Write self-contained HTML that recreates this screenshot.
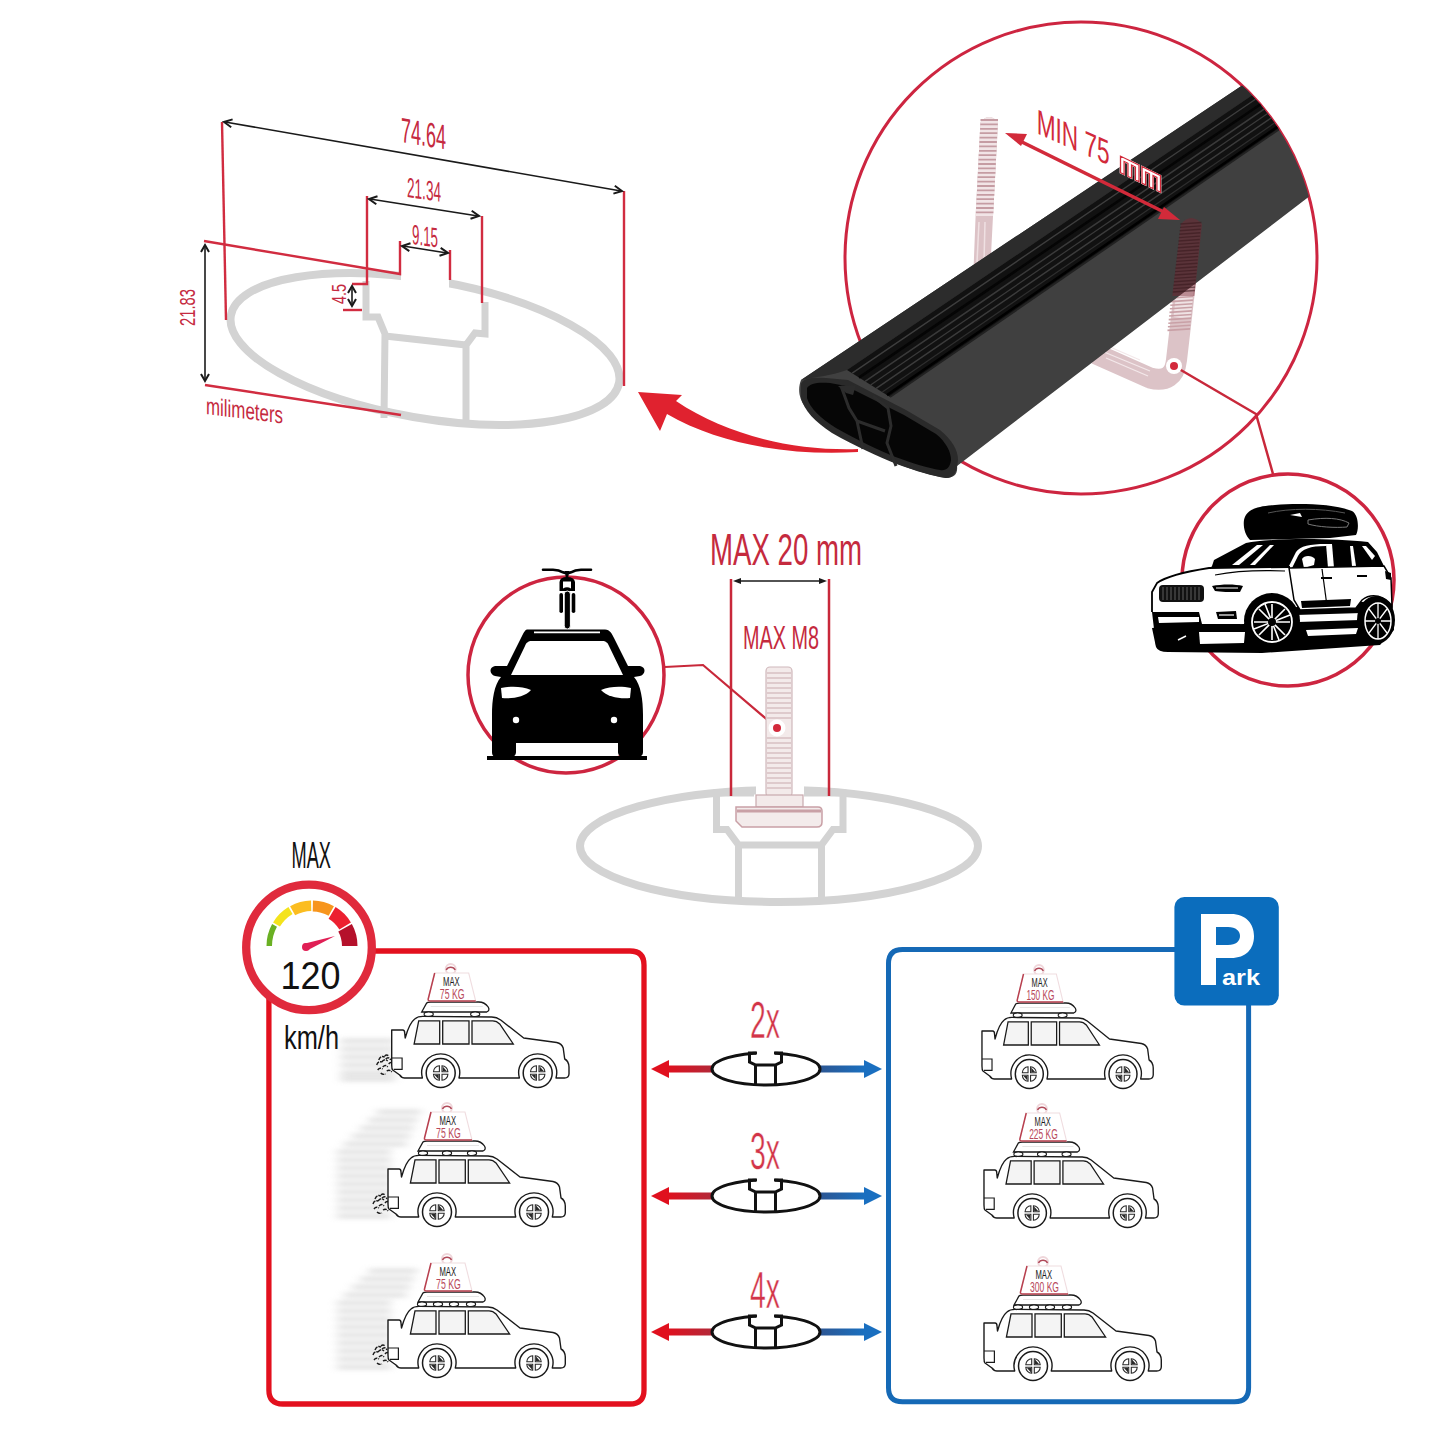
<!DOCTYPE html>
<html><head><meta charset="utf-8"><title>Roof bar infographic</title>
<style>html,body{margin:0;padding:0;background:#fff;} svg{display:block;}</style></head>
<body>
<svg width="1445" height="1445" viewBox="0 0 1445 1445">
<defs>
<filter id="blur3" x="-50%" y="-50%" width="200%" height="200%"><feGaussianBlur stdDeviation="2.5"/></filter>
<filter id="blur4" x="-50%" y="-50%" width="200%" height="200%"><feGaussianBlur stdDeviation="5 2.4"/></filter>
<linearGradient id="gred" x1="0" x2="1" y1="0" y2="0"><stop offset="0" stop-color="#e0101e"/><stop offset="1" stop-color="#b02a3a"/></linearGradient>
<linearGradient id="gblue" x1="0" x2="1" y1="0" y2="0"><stop offset="0" stop-color="#2d5591"/><stop offset="1" stop-color="#1a70c0"/></linearGradient>
</defs>
<rect width="1445" height="1445" fill="#fff"/>
<!-- ===== TOP-LEFT DIMENSION DIAGRAM ===== -->
<g id="diagram">
  <!-- gray profile -->
  <g fill="none" stroke="#d3d3d3" stroke-width="8" stroke-linejoin="miter">
    <ellipse cx="425" cy="349" rx="197" ry="69" transform="rotate(9.8 425 349)"/>
  </g>
  <!-- slot opening cut -->
  <polygon points="401,262 449,270 449,292 401,284" fill="#fff"/>
  <path d="M366,281 L366,317 L378,317 L385,334 L384,418 M385,336 L466,345 L475,333 L485,334 L485,302 M466,345 L466,422" fill="none" stroke="#d3d3d3" stroke-width="7" stroke-linejoin="miter"/>
  <!-- red dimension lines -->
  <g stroke="#d12c40" stroke-width="2.4" fill="none">
    <path d="M222,122 L226,320"/>
    <path d="M624,191 L624,386"/>
    <path d="M367,196 L367,284 L352,284"/>
    <path d="M482,216 L482,303"/>
    <path d="M204,241 L400,274 L400,241"/>
    <path d="M450,250 L450,280"/>
    <path d="M205,385 L401,415"/>
    <path d="M343,310 L362,310"/>
  </g>
  <!-- black arrows -->
  <g stroke="#1a1a1a" stroke-width="1.6" fill="none">
    <path d="M225,122 L621,191"/>
    <path d="M370,199 L478,216"/>
    <path d="M403,246 L447,253"/>
    <path d="M205,246 L205,380"/>
    <path d="M352,287 L352,305"/>
  </g>
  <path d="M231.2,127.3 L224,122 L232.6,119.4 M614.8,185.7 L622,191 L613.4,193.6 M376.3,204.2 L369,199 L377.5,196.3 M471.7,210.8 L479,216 L470.5,218.7 M409.3,251.1 L402,246 L410.5,243.2 M440.7,247.9 L448,253 L439.5,255.8 M201.0,252.0 L205,245 L209.0,252.0 M209.0,374.0 L205,381 L201.0,374.0 M348.0,293.0 L352,286 L356.0,293.0 M356.0,299.0 L352,306 L348.0,299.0" fill="none" stroke="#1a1a1a" stroke-width="2" stroke-linejoin="miter"/>
  <!-- red text -->
  <g fill="#c52a40" font-family="Liberation Sans, sans-serif">
    <text transform="translate(401,142) skewY(9.5)" font-size="35" textLength="45" lengthAdjust="spacingAndGlyphs">74.64</text>
    <text transform="translate(407,197) skewY(8)" font-size="28" textLength="34" lengthAdjust="spacingAndGlyphs">21.34</text>
    <text transform="translate(412,244) skewY(8)" font-size="28" textLength="26" lengthAdjust="spacingAndGlyphs">9.15</text>
    <text transform="translate(195,326) rotate(-90)" font-size="22" textLength="37" lengthAdjust="spacingAndGlyphs">21.83</text>
    <text transform="translate(346,304) rotate(-90)" font-size="20" textLength="20" lengthAdjust="spacingAndGlyphs">4.5</text>
    <text transform="translate(206,414) skewY(7)" font-size="24" textLength="77" lengthAdjust="spacingAndGlyphs">milimeters</text>
  </g>
</g>

<!-- ===== BIG CIRCLE WITH BAR ===== -->
<g id="bigcircle">
  <circle cx="1081" cy="258" r="236" fill="none" stroke="#cd2540" stroke-width="3"/>
  <!-- U-bolt left rod (behind bar) -->
  <g>
    <path d="M980.5,122 Q989,112 998,122 L993,216 L990.5,265 L973.7,265 L975.6,216 Z" fill="#dcc2c6"/>
    <path d="M980.5,122 Q989,112 998,122 L993,216 L975.6,216 Z" fill="#f1e4e6"/>
    <g stroke="#c59ca3" stroke-width="1.8"><path d="M980.5,120.0 h17.5 M980.3,124.4 h17.5 M980.1,128.8 h17.5 M979.8,133.2 h17.5 M979.6,137.6 h17.5 M979.4,142.0 h17.5 M979.2,146.4 h17.5 M979.0,150.8 h17.5 M978.7,155.2 h17.5 M978.5,159.6 h17.5 M978.3,164.0 h17.5 M978.1,168.4 h17.5 M977.9,172.8 h17.5 M977.6,177.2 h17.5 M977.4,181.6 h17.5 M977.2,186.0 h17.5 M977.0,190.4 h17.5 M976.8,194.8 h17.5 M976.5,199.2 h17.5 M976.3,203.6 h17.5 M976.1,208.0 h17.5 M975.9,212.4 h17.5"/></g>
    <path d="M979,222 L977,262 M985,222 L984,262" stroke="#efe0e2" stroke-width="1.5"/>
    <!-- right rod + bottom bend (behind bar) -->
    <path d="M1191.5,230 L1176.5,360 Q1174,384 1150,378 L1096,354" fill="none" stroke="#dcc3c7" stroke-width="21" stroke-linejoin="round"/>
    <path d="M1191.5,230 L1182,318" fill="none" stroke="#efe2e4" stroke-width="17"/>
    <g stroke="#c9a0a6" stroke-width="1.6"><path d="M1171.1,298.0 L1193.2,296.5 M1170.7,301.6 L1192.9,300.1 M1170.3,305.2 L1192.5,303.7 M1169.9,308.8 L1192.2,307.3 M1169.5,312.4 L1191.8,310.9 M1169.1,316.0 L1191.5,314.5 M1168.7,319.6 L1191.1,318.1 M1168.3,323.2 L1190.8,321.7 M1167.9,326.8 L1190.4,325.3 M1167.5,330.4 L1190.1,328.9"/></g>
    <g stroke="#f3e8ea" stroke-width="1.3"><path d="M1104,352 L1150,371 M1106,358 L1148,376 M1110,347 L1140,360"/></g>
  </g>
  <clipPath id="barclip">
    <circle cx="1081" cy="258" r="236"/>
    <rect x="780" y="330" width="200" height="170"/>
  </clipPath>
  <g clip-path="url(#barclip)">
    <!-- silhouette / side face -->
    <path d="M801,380 L1310,40 L1370,150 L957,466 C958,474 954,478 946,478 C900,470 840,440 806,408 C798,398 798,388 801,380 Z" fill="#404040"/>
    <!-- top-left surface -->
    <path d="M801,380 L1310,40 L1310,56 L847,370 C830,376 815,377 801,380 Z" fill="#2c2c2c"/>
    <!-- rubber strip -->
    <path d="M847,370 L1310,56 L1310,108 L890,397 Z" fill="#111"/>
    <g><path d="M852.2,373.2 L1310,62.2" stroke="#3e3e3e" stroke-width="1.4"/><path d="M859.0,377.6 L1310,70.6" stroke="#050505" stroke-width="2.5"/><path d="M865.1,381.3 L1310,77.8" stroke="#3a3a3a" stroke-width="1.5"/><path d="M870.6,384.9 L1310,84.6" stroke="#3a3a3a" stroke-width="1.2"/><path d="M876.2,388.4 L1310,91.4" stroke="#3c3c3c" stroke-width="1.5"/><path d="M882.3,392.1 L1310,98.6" stroke="#2e2e2e" stroke-width="1.2"/><path d="M887.0,395.1 L1310,104.4" stroke="#000" stroke-width="2.5"/></g>
    <path d="M890,397 L1310,108" stroke="#222" stroke-width="2"/>
    <!-- end face -->
    <path d="M801,384 C803,378 812,377 826,378 L848,380 L873,393 L906,410 L940,430 C952,440 958,450 958,460 C957,472 954,478 946,478 C920,474 880,460 832,433 C815,422 804,410 801,398 Z" fill="#2a2a2a"/>
    <path d="M807,388 C810,383 818,382 830,383 L846,386 L870,398 L904,415 L936,434 C946,442 951,452 951,460 C950,468 946,471 940,470 C916,466 880,453 836,428 C820,418 810,408 807,398 Z" fill="#060606"/>
    <path d="M841,386 L849,408 L857,421 L863,449 M873,396 L888,408 L891,426 L887,443 L896,466 M857,421 L885,431" fill="none" stroke="#2c2c2c" stroke-width="3"/>
    <path d="M838,386 L856,385 L853,395 L846,393 Z" fill="#2c2c2c"/>
    </g>
  <!-- right rod seen through bar -->
  <path d="M1181,224 Q1191,212 1202,224 L1194.4,296 L1172.3,296 Z" fill="#7a2430" opacity="0.45"/>
  <g stroke="#3a1a1e" stroke-width="1.4" opacity="0.6"><path d="M1180.3,224.0 L1201.4,222.5 M1180.0,227.4 L1201.1,225.9 M1179.6,230.8 L1200.8,229.3 M1179.2,234.2 L1200.4,232.7 M1178.8,237.6 L1200.1,236.1 M1178.4,241.0 L1199.8,239.5 M1178.1,244.4 L1199.4,242.9 M1177.7,247.8 L1199.1,246.3 M1177.3,251.2 L1198.8,249.7 M1176.9,254.6 L1198.4,253.1 M1176.6,258.0 L1198.1,256.5 M1176.2,261.4 L1197.8,259.9 M1175.8,264.8 L1197.5,263.3 M1175.4,268.2 L1197.1,266.7 M1175.0,271.6 L1196.8,270.1 M1174.7,275.0 L1196.5,273.5 M1174.3,278.4 L1196.1,276.9 M1173.9,281.8 L1195.8,280.3 M1173.5,285.2 L1195.5,283.7 M1173.2,288.6 L1195.1,287.1 M1172.8,292.0 L1194.8,290.5"/></g>
  <!-- MIN 75 mm arrow -->
  <path d="M1016,139 L1168,214" stroke="#d22a3a" stroke-width="3.5"/>
  <polygon points="1005,133 1027,134 1021,146" fill="#d22a3a"/>
  <polygon points="1180,220 1158,219 1164,207" fill="#d22a3a"/>
  <text transform="translate(1036.7,133.2) skewY(24)" font-family="Liberation Sans, sans-serif" font-size="35" fill="#d22a3a" textLength="73" lengthAdjust="spacingAndGlyphs">MIN 75</text>
  <g transform="translate(1120.5,172.7) skewY(26)">
    <path d="M0,0 L0,-16.6 L18.5,-16.6 L18.5,0 L14.9,0 L14.9,-13.000000000000002 L11.05,-13.000000000000002 L11.05,0 L7.449999999999999,0 L7.449999999999999,-13.000000000000002 L3.6,-13.000000000000002 L3.6,0 Z M21.5,0 L21.5,-16.6 L40.0,-16.6 L40.0,0 L36.4,0 L36.4,-13.000000000000002 L32.55,-13.000000000000002 L32.55,0 L28.950000000000003,0 L28.950000000000003,-13.000000000000002 L25.1,-13.000000000000002 L25.1,0 Z" fill="#fff" stroke="#fff" stroke-width="1.8" stroke-linejoin="miter"/>
    <path d="M0,0 L0,-16.6 L18.5,-16.6 L18.5,0 L14.9,0 L14.9,-13.000000000000002 L11.05,-13.000000000000002 L11.05,0 L7.449999999999999,0 L7.449999999999999,-13.000000000000002 L3.6,-13.000000000000002 L3.6,0 Z M21.5,0 L21.5,-16.6 L40.0,-16.6 L40.0,0 L36.4,0 L36.4,-13.000000000000002 L32.55,-13.000000000000002 L32.55,0 L28.950000000000003,0 L28.950000000000003,-13.000000000000002 L25.1,-13.000000000000002 L25.1,0 Z" fill="#fff" stroke="#d22a3a" stroke-width="1.3" stroke-linejoin="miter"/>
  </g>
  <!-- dot and connector -->
  <path d="M1174,366 L1256,414 L1273,474" fill="none" stroke="#c8283a" stroke-width="2.5"/>
  <circle cx="1174" cy="366" r="8" fill="#fff"/>
  <circle cx="1174" cy="366" r="4" fill="#d32a3c"/>
  <!-- curved arrow -->
  <path d="M858,449 C795,451 728,436 676,401 L682,395 L638,392 L660,431 L667,414 C722,446 795,456 858,452 Z" fill="#e0222f"/>
</g>

<!-- ===== SMALL SUV CIRCLE ===== -->
<g id="suvcircle">
  <circle cx="1288" cy="580" r="106" fill="none" stroke="#cd2540" stroke-width="3.5"/>
  <g id="suv">
    <!-- ground shadow + underbody -->
    <path d="M1152,628 L1156,647 Q1158,652 1168,652 L1262,653 L1380,645 L1394,630 L1392,600 L1300,606 L1240,624 L1200,624 Z" fill="#000"/>
    <!-- roof box -->
    <path d="M1244,520 C1246,510 1256,506 1275,505 C1300,503 1335,504 1352,511 C1359,515 1359,530 1356,535 L1330,538 L1250,540 C1245,535 1243,527 1244,520 Z" fill="#000"/>
    <path d="M1268,513 C1290,508 1320,508 1345,513" stroke="#555" stroke-width="1" fill="none"/>
    <path d="M1290,515 L1300,513 L1302,517 Z" fill="#fff"/>
    <path d="M1308,520 C1325,517 1340,518 1349,523 L1347,527 C1335,528 1318,527 1308,524 Z" fill="none" stroke="#777" stroke-width="1"/>
    <!-- roof/greenhouse black -->
    <path d="M1212,566 L1214,560 L1246,543 C1270,538 1330,538 1368,542 L1377,552 L1384,566 L1300,569 L1210,569 Z" fill="#000"/>
    <!-- windshield white stripes -->
    <path d="M1232,565 L1257,545 L1263,545 L1239,565 Z" fill="#fff"/>
    <path d="M1250,565 L1270,545 L1274,545 L1255,565 Z" fill="#fff"/>
    <!-- side windows: pillars white -->
    <path d="M1288,568 L1296,552 C1300,546 1310,544 1326,544 L1328,544 L1326,546 C1310,546 1302,549 1298,556 L1292,568 Z" fill="#fff"/>
    <path d="M1326,544 L1332,544 L1334,568 L1328,568 Z" fill="#fff"/>
    <path d="M1350,546 L1353,546 L1356,566 L1352,566 Z" fill="#fff"/>
    <path d="M1362,546 L1366,546 L1375,556 L1372,560 Z" fill="#fff"/>
    <path d="M1302,559 C1304,555 1312,555 1315,559 L1314,565 L1304,568 Z" fill="#fff"/>
    <!-- front fascia + hood white -->
    <path d="M1157,583 C1168,575 1190,571 1209,568 L1290,567 L1292,590 C1275,588 1258,598 1250,612 L1244,624 L1200,625 L1199,612 L1153,612 L1152,592 Z" fill="#fff"/>
    <path d="M1152,612 L1152,592 L1157,583 C1168,575 1190,571 1209,568 L1290,567" fill="none" stroke="#000" stroke-width="1.8"/>
    <path d="M1215,575 C1235,571 1260,570 1285,571" fill="none" stroke="#000" stroke-width="1.2"/>
    <!-- side body white -->
    <path d="M1289,568 L1384,566 L1391,578 L1392,606 C1385,596 1372,592 1362,600 L1356,608 L1300,610 L1294,600 Z" fill="#fff" stroke="#000" stroke-width="1.5"/>
    <path d="M1322,569 L1327,606" stroke="#000" stroke-width="1.2"/>
    <path d="M1321,578 L1332,578 M1357,576 L1367,576" stroke="#000" stroke-width="2.2"/>
    <path d="M1301,601 L1351,599 L1350,606 L1302,608 Z" fill="#000"/>
    <path d="M1385,571 L1391,573 L1391,580 L1386,579 Z" fill="#000"/>
    <!-- grille -->
    <rect x="1159" y="585" width="45" height="17" rx="4" fill="#111"/>
    <g stroke="#666" stroke-width="0.9"><path d="M1163,587 v13 M1167,587 v13 M1171,587 v13 M1175,587 v13 M1179,587 v13 M1183,587 v13 M1187,587 v13 M1191,587 v13 M1195,587 v13 M1199,587 v13"/></g>
    <!-- headlight -->
    <path d="M1212,586 C1222,584 1235,584 1243,586 L1240,592 C1230,592 1220,592 1215,591 Z" fill="#000"/>
    <path d="M1216,588 L1238,588" stroke="#fff" stroke-width="1"/>
    <!-- fog light -->
    <path d="M1216,612 L1236,611 L1237,619 L1218,619 Z" fill="#000"/>
    <path d="M1219,615 L1234,615" stroke="#fff" stroke-width="1.2"/>
    <!-- bumper black with white bar -->
    <path d="M1152,612 L1199,612 L1202,624 L1240,624 L1244,632 L1199,632 L1200,643 L1156,646 Z" fill="#000"/>
    <path d="M1158,617 L1199,617 L1199,622 L1159,623 Z" fill="#fff"/>
    <path d="M1199,632 L1245,632 L1244,643 L1200,644 Z" fill="#fff"/>
    <!-- lower side strips -->
    <path d="M1296,615 L1362,613 L1360,620 L1298,622 Z" fill="#fff"/>
    <path d="M1306,630 L1358,628 L1356,634 L1308,636 Z" fill="#fff"/>
    <!-- front wheel -->
    <circle cx="1272" cy="621" r="28" fill="#000"/>
    <circle cx="1272" cy="622" r="20" fill="none" stroke="#fff" stroke-width="1.8"/>
    <g stroke="#fff" stroke-width="1.6"><path d="M1272,604 L1272,640 M1254,622 L1290,622 M1259,609 L1285,635 M1285,609 L1259,635 M1265,604 L1279,640 M1290,615 L1254,629"/></g>
    <circle cx="1272" cy="622" r="4" fill="#000"/>
    <!-- rear wheel -->
    <ellipse cx="1376" cy="620" rx="19" ry="24" fill="#000"/>
    <ellipse cx="1378" cy="621" rx="13" ry="18" fill="none" stroke="#fff" stroke-width="1.5"/>
    <g stroke="#fff" stroke-width="1.3"><path d="M1378,603 L1378,639 M1365,621 L1391,621 M1369,609 L1387,633 M1387,609 L1369,633"/></g>
    <circle cx="1378" cy="621" r="3" fill="#000"/>
    <!-- front wheel under bumper (left) -->
    <path d="M1168,646 C1170,636 1180,630 1192,632 L1198,646 Z" fill="#000"/>
    <path d="M1178,640 L1186,636" stroke="#fff" stroke-width="1.5"/>
  </g>
</g>

<!-- ===== FRONT CAR CIRCLE ===== -->
<g id="frontcar">
  <circle cx="566" cy="675" r="98" fill="none" stroke="#cd2540" stroke-width="3.5"/>
  <!-- bike -->
  <path d="M543,569.7 L553,569.7 Q559,570 563,572.3 Q567,574 571,572.3 Q575,570 581,569.7 L591,569.7" stroke="#000" stroke-width="2.6" stroke-linecap="round" fill="none"/>
  <path d="M566,572 L567,578 L568,572 Z" stroke="#000" stroke-width="2.2" fill="#000"/>
  <path d="M559.5,591 L559.5,582 Q560,577 567,577 Q574,577 575,582 L575,591 Z" fill="#000"/>
  <path d="M563,581.5 L571,581.5 L571,588.5 Q567,586 563,588.5 Z" fill="#fff"/>
  <rect x="559.4" y="593" width="3.6" height="20" rx="1.8" fill="#000"/>
  <rect x="571.7" y="593" width="3.6" height="20" rx="1.8" fill="#000"/>
  <rect x="564.2" y="591" width="6.2" height="38" rx="3.1" fill="#000" stroke="#fff" stroke-width="1"/>
  <!-- car -->
  <path d="M527,629.5 L605,629.5 C610,629.5 612,634 614,638 L628,666 L640,666 C646,667 646,674 640,676 L634,677 C641,685 643,700 643,715 L643,752 C643,756 640,757 637,757 L624,757 C620,757 618,755 618,752 L618,743 L516,743 L516,752 C516,755 514,757 510,757 L497,757 C494,757 492,756 492,752 L492,715 C492,700 494,685 501,677 L495,676 C489,674 489,667 495,666 L507,666 L521,638 C523,634 525,629.5 527,629.5 Z" fill="#000"/>
  <path d="M532,641 L602,641 C606,641 608,643 609,646 L623,675 L511,675 L525,646 C526,643 528,641 532,641 Z" fill="#fff"/>
  <path d="M501,688 C510,686 522,686 531,690 C525,697 512,699 502,698 Z" fill="#fff"/>
  <path d="M631,688 C622,686 610,686 601,690 C607,697 620,699 630,698 Z" fill="#fff"/>
  <circle cx="516" cy="720" r="3.2" fill="#fff"/>
  <circle cx="614" cy="720" r="3.2" fill="#fff"/>
  <rect x="487" y="756" width="160" height="4" fill="#000"/>
  <path d="M534,632.3 L600,632.3" stroke="#fff" stroke-width="1.8"/>
</g>

<!-- connector front car -> bolt -->
<path d="M665,667 L703,665 L777,728" fill="none" stroke="#c8283a" stroke-width="2.2"/>

<!-- ===== MIDDLE PROFILE + T-BOLT ===== -->
<g id="tbolt">
  <ellipse cx="779" cy="846" rx="199" ry="56" fill="none" stroke="#d3d3d3" stroke-width="8"/>
  <rect x="756" y="780" width="48" height="20" fill="#fff"/>
  <path d="M754,793 L716.5,793 L716.5,829.5 L727,829.5 L738.5,845 L738.5,902 M804,793 L843,793 L843,829.5 L833,829.5 L821.5,845 L821.5,902 M738.5,845 L821.5,845" fill="none" stroke="#d3d3d3" stroke-width="7"/>
  <!-- bolt -->
  <rect x="766" y="667" width="26" height="130" rx="4" fill="#f3eaea" stroke="#d0b8bb" stroke-width="1.2"/>
  <g stroke="#c9a9ad" stroke-width="1.1">
    <path d="M767,673 h24 M767,678 h24 M767,683 h24 M767,688 h24 M767,693 h24 M767,698 h24 M767,703 h24 M767,708 h24 M767,713 h24 M767,718 h24 M767,738 h24 M767,743 h24 M767,748 h24 M767,753 h24 M767,758 h24 M767,763 h24 M767,768 h24 M767,773 h24 M767,778 h24 M767,783 h24 M767,788 h24"/>
  </g>
  <rect x="756" y="795" width="47" height="12" fill="#f3eaea" stroke="#c9a9ad" stroke-width="1.2"/>
  <path d="M736,807 L818,807 Q822,807 822,811 L822,822 Q822,827 817,827 L742,827 L736,821 Z" fill="#f3ebeb" stroke="#c9a0a6" stroke-width="1.5"/>
  <path d="M737,811 L821,811" stroke="#c9a0a6" stroke-width="3"/>
  <!-- red lines -->
  <path d="M731,579 L731,796 M829,579 L829,796" stroke="#c8283a" stroke-width="2.5"/>
  <path d="M737,581 L823,581" stroke="#1a1a1a" stroke-width="1.5"/>
  <polygon points="733,581 741,578 741,584" fill="#1a1a1a"/>
  <polygon points="827,581 819,578 819,584" fill="#1a1a1a"/>
  <circle cx="777" cy="728" r="8.5" fill="#fff"/>
  <circle cx="777" cy="728" r="4" fill="#d32a3c"/>
  <text x="710" y="565" font-family="Liberation Sans, sans-serif" font-size="44" fill="#c52a3e" textLength="152" lengthAdjust="spacingAndGlyphs">MAX 20 mm</text>
  <text x="743" y="649" font-family="Liberation Sans, sans-serif" font-size="33" fill="#c52a3e" textLength="76" lengthAdjust="spacingAndGlyphs">MAX M8</text>
</g>

<path d="M268.9,995 L268.9,1390 Q268.9,1404 282.9,1404 L630,1404 Q644,1404 644,1390 L644,965 Q644,951 630,951 L372,951" fill="none" stroke="#e3101e" stroke-width="5.3"/>
<path d="M1176,949.6 L902.5,949.6 Q888.5,949.6 888.5,963.6 L888.5,1387.7 Q888.5,1401.7 902.5,1401.7 L1234.6,1401.7 Q1248.6,1401.7 1248.6,1387.7 L1248.6,1004" fill="none" stroke="#1569b6" stroke-width="5"/>
<circle cx="309" cy="947.4" r="62.8" fill="#fff" stroke="#e02a3c" stroke-width="8.3"/>
<path d="M266.50,946.00 A45.5,45.5 0 0 1 272.13,924.08 L276.95,926.73 A40.0,40.0 0 0 0 272.00,946.00 Z" fill="#6ab023"/>
<path d="M273.08,922.43 A45.5,45.5 0 0 1 288.43,907.08 L292.57,913.92 A37.5,37.5 0 0 0 279.92,926.57 Z" fill="#f4e31c"/>
<path d="M290.08,906.13 A45.5,45.5 0 0 1 311.05,900.51 L311.27,911.01 A35.0,35.0 0 0 0 295.14,915.33 Z" fill="#fbbd20"/>
<path d="M312.95,900.51 A45.5,45.5 0 0 1 333.92,906.13 L328.62,915.77 A34.5,34.5 0 0 0 312.72,911.51 Z" fill="#f7951d"/>
<path d="M335.57,907.08 A45.5,45.5 0 0 1 350.92,922.43 L339.37,929.42 A32.0,32.0 0 0 0 328.58,918.63 Z" fill="#ec2030"/>
<path d="M351.87,924.08 A45.5,45.5 0 0 1 357.50,946.00 L342.00,946.00 A30.0,30.0 0 0 0 338.29,931.55 Z" fill="#b5112b"/>
<path d="M303,944 L335,936 L308,950 Z" fill="#e01f55"/>
<circle cx="306" cy="947" r="4" fill="#e01f55"/>
<text x="280.5" y="989" font-family="Liberation Sans, sans-serif" font-size="38.5" fill="#111" textLength="60" lengthAdjust="spacingAndGlyphs">120</text>
<text x="291.5" y="868" font-family="Liberation Sans, sans-serif" font-size="36" fill="#111" textLength="39.5" lengthAdjust="spacingAndGlyphs">MAX</text>
<text x="284" y="1049" font-family="Liberation Sans, sans-serif" font-size="34" fill="#111" textLength="55" lengthAdjust="spacingAndGlyphs">km/h</text>
<rect x="1174.4" y="897" width="104.4" height="108.6" rx="10" fill="#0b6dbd"/>
<path fill="#fff" fill-rule="evenodd" d="M1201,914 L1231,914 C1246,914 1254,924 1254,936 C1254,949 1246,958 1231,958 L1216,958 L1216,985 L1201,985 Z M1216,927 L1228,927 C1236,927 1240,931 1240,936 C1240,941 1236,945 1228,945 L1216,945 Z"/>
<text x="1222" y="985" font-family="Liberation Sans, sans-serif" font-weight="bold" font-size="22" fill="#fff" textLength="38" lengthAdjust="spacingAndGlyphs">ark</text>
<g transform="translate(390.7,1015) scale(1.0,1)">
<g filter="url(#blur4)" stroke="#c2c2c2" stroke-width="4.2" opacity="0.6">
<path d="M-50.0,26 L4.0,26"/>
<path d="M-50.0,34 L4.0,34"/>
<path d="M-50.0,42 L4.0,42"/>
<path d="M-50.0,50 L4.0,50"/>
<path d="M-50.0,58 L4.0,58"/>
<path d="M-50.0,64 L4.0,64"/>
</g>
<g stroke="#1a1a1a" stroke-width="1.4" fill="none"><path d="M-12,45 q2,-5 6,-3 M-14,50 q1,-4 5,-3 M-13,55 q2,-3 5,-1 M-9,47 q3,-4 6,-1 M-8,52 q3,-3 5,0 M-5,44 q3,-3 5,1 M-4,56 q3,-2 5,1 M-2,49 q2,-3 5,0 M-10,58 q2,2 5,1 M-6,41 q2,-2 4,0 M2,48 l8,4 M2,52 l8,2" stroke-dasharray="4 1"/></g>
<path d="M31,-3 L36,-12 Q37,-13 40,-13 L88,-13 Q94,-13 97.5,-8 Q99.5,-4.5 96,-3 Z" fill="#fff" stroke="#1a1a1a" stroke-width="1.3"/>
<path d="M40,-8.5 L92,-8.5" stroke="#e6e6e6" stroke-width="1.2"/>
<ellipse cx="38" cy="-0.8" rx="4.6" ry="2.3" fill="#fff" stroke="#1a1a1a" stroke-width="1.1"/>
<ellipse cx="84.5" cy="-0.8" rx="4.6" ry="2.3" fill="#fff" stroke="#1a1a1a" stroke-width="1.1"/>
<circle cx="60" cy="-46" r="5" fill="#fff" stroke="#efd6da" stroke-width="2"/>
<path d="M55.5,-45 A5,5 0 0 1 64.5,-45" fill="none" stroke="#b04a5a" stroke-width="1.5"/>
<path d="M44,-42 L78,-42 L85,-14 L37,-14 Z" fill="#fff" stroke="#f0dde0" stroke-width="1.1"/>
<path d="M44,-42 L37.5,-16 Q37,-14 40,-14 L85,-14" fill="none" stroke="#b8404f" stroke-width="1.5"/>
<text x="52.4" y="-29.5" font-family="Liberation Sans, sans-serif" font-size="13.5" fill="#1a1a1a" textLength="16.6" lengthAdjust="spacingAndGlyphs">MAX</text>
<text x="49.1" y="-16.2" font-family="Liberation Sans, sans-serif" font-size="14" fill="#b8485a" textLength="24.7" lengthAdjust="spacingAndGlyphs">75 KG</text>
<path d="M1,15 L12,15 Q14,15 14,18 L14.5,23 C17,14 20,7 24,4 Q27,1.4 32,1.4 L101,2 Q106,2 110,5 L133,23 L166,27.5 Q171,28.5 172.5,33 L174,44 Q178,46 178.3,52 L178.3,59 Q178,63 173.8,63 L165.3,63 A19,19 0 1 0 128.7,63 L68.3,63 A19,19 0 1 0 31.7,63 L14,63 Q11,63 9,60 L2,55 Q1,54 1,50 Z" fill="#fff" stroke="#1a1a1a" stroke-width="1.4" stroke-linejoin="round"/>
<path d="M1,43 L11.4,43 L11.4,54.4 L3,54.4" fill="none" stroke="#1a1a1a" stroke-width="1.2"/>
<g fill="#f4f4f4" stroke="#1a1a1a" stroke-width="1.3"><path d="M28,5.8 Q29,5.8 32,5.8 L49,5.8 L49,29 L23.4,29 Z"/><path d="M52,5.8 L78.3,5.8 L78.3,29 L52,29 Z"/><path d="M81.3,5.8 L102,5.8 Q106,5.8 109,9 L122.6,29 L81.3,29 Z"/></g>
<circle cx="50" cy="58" r="14.5" fill="#fff" stroke="#1a1a1a" stroke-width="1.5"/>
<path d="M51.3,56.7 L51.3,50.8 A5.9,5.9 0 0 1 57.2,56.7 Z M51.3,59.3 L51.3,65.2 A5.9,5.9 0 0 0 57.2,59.3 Z M48.7,59.3 L48.7,65.2 A5.9,5.9 0 0 1 42.8,59.3 Z M48.7,56.7 L48.7,50.8 A5.9,5.9 0 0 0 42.8,56.7 Z" fill="#fff" stroke="#2a2a2a" stroke-width="1.1"/>
<path d="M52,51.5 L56,56 L52,56 Z M48,64.5 L44,60 L48,60 Z" fill="#2a2a2a"/>
<circle cx="147" cy="58" r="14.5" fill="#fff" stroke="#1a1a1a" stroke-width="1.5"/>
<path d="M148.3,56.7 L148.3,50.8 A5.9,5.9 0 0 1 154.2,56.7 Z M148.3,59.3 L148.3,65.2 A5.9,5.9 0 0 0 154.2,59.3 Z M145.7,59.3 L145.7,65.2 A5.9,5.9 0 0 1 139.8,59.3 Z M145.7,56.7 L145.7,50.8 A5.9,5.9 0 0 0 139.8,56.7 Z" fill="#fff" stroke="#2a2a2a" stroke-width="1.1"/>
<path d="M149,51.5 L153,56 L149,56 Z M145,64.5 L141,60 L145,60 Z" fill="#2a2a2a"/>
</g>
<g transform="translate(387,1154) scale(1.0,1)">
<g filter="url(#blur4)" stroke="#c2c2c2" stroke-width="4.2" opacity="0.6">
<path d="M-10.1,-42 L33.8,-42"/>
<path d="M-18.3,-34 L30.2,-34"/>
<path d="M-26.5,-26 L26.7,-26"/>
<path d="M-34.6,-18 L23.1,-18"/>
<path d="M-42.8,-10 L19.6,-10"/>
<path d="M-50.0,-2 L4.0,-2"/>
<path d="M-50.0,6 L4.0,6"/>
<path d="M-50.0,14 L4.0,14"/>
<path d="M-50.0,22 L4.0,22"/>
<path d="M-50.0,30 L4.0,30"/>
<path d="M-50.0,38 L4.0,38"/>
<path d="M-50.0,46 L4.0,46"/>
<path d="M-50.0,54 L4.0,54"/>
<path d="M-50.0,62 L4.0,62"/>
</g>
<g stroke="#1a1a1a" stroke-width="1.4" fill="none"><path d="M-12,45 q2,-5 6,-3 M-14,50 q1,-4 5,-3 M-13,55 q2,-3 5,-1 M-9,47 q3,-4 6,-1 M-8,52 q3,-3 5,0 M-5,44 q3,-3 5,1 M-4,56 q3,-2 5,1 M-2,49 q2,-3 5,0 M-10,58 q2,2 5,1 M-6,41 q2,-2 4,0 M2,48 l8,4 M2,52 l8,2" stroke-dasharray="4 1"/></g>
<path d="M31,-3 L36,-12 Q37,-13 40,-13 L88,-13 Q94,-13 97.5,-8 Q99.5,-4.5 96,-3 Z" fill="#fff" stroke="#1a1a1a" stroke-width="1.3"/>
<path d="M40,-8.5 L92,-8.5" stroke="#e6e6e6" stroke-width="1.2"/>
<ellipse cx="36" cy="-0.8" rx="4.6" ry="2.3" fill="#fff" stroke="#1a1a1a" stroke-width="1.1"/>
<ellipse cx="60" cy="-0.8" rx="4.6" ry="2.3" fill="#fff" stroke="#1a1a1a" stroke-width="1.1"/>
<ellipse cx="85" cy="-0.8" rx="4.6" ry="2.3" fill="#fff" stroke="#1a1a1a" stroke-width="1.1"/>
<circle cx="60" cy="-46" r="5" fill="#fff" stroke="#efd6da" stroke-width="2"/>
<path d="M55.5,-45 A5,5 0 0 1 64.5,-45" fill="none" stroke="#b04a5a" stroke-width="1.5"/>
<path d="M44,-42 L78,-42 L85,-14 L37,-14 Z" fill="#fff" stroke="#f0dde0" stroke-width="1.1"/>
<path d="M44,-42 L37.5,-16 Q37,-14 40,-14 L85,-14" fill="none" stroke="#b8404f" stroke-width="1.5"/>
<text x="52.4" y="-29.5" font-family="Liberation Sans, sans-serif" font-size="13.5" fill="#1a1a1a" textLength="16.6" lengthAdjust="spacingAndGlyphs">MAX</text>
<text x="49.1" y="-16.2" font-family="Liberation Sans, sans-serif" font-size="14" fill="#b8485a" textLength="24.7" lengthAdjust="spacingAndGlyphs">75 KG</text>
<path d="M1,15 L12,15 Q14,15 14,18 L14.5,23 C17,14 20,7 24,4 Q27,1.4 32,1.4 L101,2 Q106,2 110,5 L133,23 L166,27.5 Q171,28.5 172.5,33 L174,44 Q178,46 178.3,52 L178.3,59 Q178,63 173.8,63 L165.3,63 A19,19 0 1 0 128.7,63 L68.3,63 A19,19 0 1 0 31.7,63 L14,63 Q11,63 9,60 L2,55 Q1,54 1,50 Z" fill="#fff" stroke="#1a1a1a" stroke-width="1.4" stroke-linejoin="round"/>
<path d="M1,43 L11.4,43 L11.4,54.4 L3,54.4" fill="none" stroke="#1a1a1a" stroke-width="1.2"/>
<g fill="#f4f4f4" stroke="#1a1a1a" stroke-width="1.3"><path d="M28,5.8 Q29,5.8 32,5.8 L49,5.8 L49,29 L23.4,29 Z"/><path d="M52,5.8 L78.3,5.8 L78.3,29 L52,29 Z"/><path d="M81.3,5.8 L102,5.8 Q106,5.8 109,9 L122.6,29 L81.3,29 Z"/></g>
<circle cx="50" cy="58" r="14.5" fill="#fff" stroke="#1a1a1a" stroke-width="1.5"/>
<path d="M51.3,56.7 L51.3,50.8 A5.9,5.9 0 0 1 57.2,56.7 Z M51.3,59.3 L51.3,65.2 A5.9,5.9 0 0 0 57.2,59.3 Z M48.7,59.3 L48.7,65.2 A5.9,5.9 0 0 1 42.8,59.3 Z M48.7,56.7 L48.7,50.8 A5.9,5.9 0 0 0 42.8,56.7 Z" fill="#fff" stroke="#2a2a2a" stroke-width="1.1"/>
<path d="M52,51.5 L56,56 L52,56 Z M48,64.5 L44,60 L48,60 Z" fill="#2a2a2a"/>
<circle cx="147" cy="58" r="14.5" fill="#fff" stroke="#1a1a1a" stroke-width="1.5"/>
<path d="M148.3,56.7 L148.3,50.8 A5.9,5.9 0 0 1 154.2,56.7 Z M148.3,59.3 L148.3,65.2 A5.9,5.9 0 0 0 154.2,59.3 Z M145.7,59.3 L145.7,65.2 A5.9,5.9 0 0 1 139.8,59.3 Z M145.7,56.7 L145.7,50.8 A5.9,5.9 0 0 0 139.8,56.7 Z" fill="#fff" stroke="#2a2a2a" stroke-width="1.1"/>
<path d="M149,51.5 L153,56 L149,56 Z M145,64.5 L141,60 L145,60 Z" fill="#2a2a2a"/>
</g>
<g transform="translate(387,1305) scale(1.0,1)">
<g filter="url(#blur4)" stroke="#c2c2c2" stroke-width="4.2" opacity="0.6">
<path d="M-18.3,-34 L30.2,-34"/>
<path d="M-26.5,-26 L26.7,-26"/>
<path d="M-34.6,-18 L23.1,-18"/>
<path d="M-42.8,-10 L19.6,-10"/>
<path d="M-50.0,-2 L4.0,-2"/>
<path d="M-50.0,6 L4.0,6"/>
<path d="M-50.0,14 L4.0,14"/>
<path d="M-50.0,22 L4.0,22"/>
<path d="M-50.0,30 L4.0,30"/>
<path d="M-50.0,38 L4.0,38"/>
<path d="M-50.0,46 L4.0,46"/>
<path d="M-50.0,54 L4.0,54"/>
<path d="M-50.0,62 L4.0,62"/>
</g>
<g stroke="#1a1a1a" stroke-width="1.4" fill="none"><path d="M-12,45 q2,-5 6,-3 M-14,50 q1,-4 5,-3 M-13,55 q2,-3 5,-1 M-9,47 q3,-4 6,-1 M-8,52 q3,-3 5,0 M-5,44 q3,-3 5,1 M-4,56 q3,-2 5,1 M-2,49 q2,-3 5,0 M-10,58 q2,2 5,1 M-6,41 q2,-2 4,0 M2,48 l8,4 M2,52 l8,2" stroke-dasharray="4 1"/></g>
<path d="M31,-3 L36,-12 Q37,-13 40,-13 L88,-13 Q94,-13 97.5,-8 Q99.5,-4.5 96,-3 Z" fill="#fff" stroke="#1a1a1a" stroke-width="1.3"/>
<path d="M40,-8.5 L92,-8.5" stroke="#e6e6e6" stroke-width="1.2"/>
<ellipse cx="35" cy="-0.8" rx="4.6" ry="2.3" fill="#fff" stroke="#1a1a1a" stroke-width="1.1"/>
<ellipse cx="51" cy="-0.8" rx="4.6" ry="2.3" fill="#fff" stroke="#1a1a1a" stroke-width="1.1"/>
<ellipse cx="67" cy="-0.8" rx="4.6" ry="2.3" fill="#fff" stroke="#1a1a1a" stroke-width="1.1"/>
<ellipse cx="84" cy="-0.8" rx="4.6" ry="2.3" fill="#fff" stroke="#1a1a1a" stroke-width="1.1"/>
<circle cx="60" cy="-46" r="5" fill="#fff" stroke="#efd6da" stroke-width="2"/>
<path d="M55.5,-45 A5,5 0 0 1 64.5,-45" fill="none" stroke="#b04a5a" stroke-width="1.5"/>
<path d="M44,-42 L78,-42 L85,-14 L37,-14 Z" fill="#fff" stroke="#f0dde0" stroke-width="1.1"/>
<path d="M44,-42 L37.5,-16 Q37,-14 40,-14 L85,-14" fill="none" stroke="#b8404f" stroke-width="1.5"/>
<text x="52.4" y="-29.5" font-family="Liberation Sans, sans-serif" font-size="13.5" fill="#1a1a1a" textLength="16.6" lengthAdjust="spacingAndGlyphs">MAX</text>
<text x="49.1" y="-16.2" font-family="Liberation Sans, sans-serif" font-size="14" fill="#b8485a" textLength="24.7" lengthAdjust="spacingAndGlyphs">75 KG</text>
<path d="M1,15 L12,15 Q14,15 14,18 L14.5,23 C17,14 20,7 24,4 Q27,1.4 32,1.4 L101,2 Q106,2 110,5 L133,23 L166,27.5 Q171,28.5 172.5,33 L174,44 Q178,46 178.3,52 L178.3,59 Q178,63 173.8,63 L165.3,63 A19,19 0 1 0 128.7,63 L68.3,63 A19,19 0 1 0 31.7,63 L14,63 Q11,63 9,60 L2,55 Q1,54 1,50 Z" fill="#fff" stroke="#1a1a1a" stroke-width="1.4" stroke-linejoin="round"/>
<path d="M1,43 L11.4,43 L11.4,54.4 L3,54.4" fill="none" stroke="#1a1a1a" stroke-width="1.2"/>
<g fill="#f4f4f4" stroke="#1a1a1a" stroke-width="1.3"><path d="M28,5.8 Q29,5.8 32,5.8 L49,5.8 L49,29 L23.4,29 Z"/><path d="M52,5.8 L78.3,5.8 L78.3,29 L52,29 Z"/><path d="M81.3,5.8 L102,5.8 Q106,5.8 109,9 L122.6,29 L81.3,29 Z"/></g>
<circle cx="50" cy="58" r="14.5" fill="#fff" stroke="#1a1a1a" stroke-width="1.5"/>
<path d="M51.3,56.7 L51.3,50.8 A5.9,5.9 0 0 1 57.2,56.7 Z M51.3,59.3 L51.3,65.2 A5.9,5.9 0 0 0 57.2,59.3 Z M48.7,59.3 L48.7,65.2 A5.9,5.9 0 0 1 42.8,59.3 Z M48.7,56.7 L48.7,50.8 A5.9,5.9 0 0 0 42.8,56.7 Z" fill="#fff" stroke="#2a2a2a" stroke-width="1.1"/>
<path d="M52,51.5 L56,56 L52,56 Z M48,64.5 L44,60 L48,60 Z" fill="#2a2a2a"/>
<circle cx="147" cy="58" r="14.5" fill="#fff" stroke="#1a1a1a" stroke-width="1.5"/>
<path d="M148.3,56.7 L148.3,50.8 A5.9,5.9 0 0 1 154.2,56.7 Z M148.3,59.3 L148.3,65.2 A5.9,5.9 0 0 0 154.2,59.3 Z M145.7,59.3 L145.7,65.2 A5.9,5.9 0 0 1 139.8,59.3 Z M145.7,56.7 L145.7,50.8 A5.9,5.9 0 0 0 139.8,56.7 Z" fill="#fff" stroke="#2a2a2a" stroke-width="1.1"/>
<path d="M149,51.5 L153,56 L149,56 Z M145,64.5 L141,60 L145,60 Z" fill="#2a2a2a"/>
</g>
<g transform="translate(981,1016) scale(0.966,1)">
<path d="M31,-3 L36,-12 Q37,-13 40,-13 L88,-13 Q94,-13 97.5,-8 Q99.5,-4.5 96,-3 Z" fill="#fff" stroke="#1a1a1a" stroke-width="1.3"/>
<path d="M40,-8.5 L92,-8.5" stroke="#e6e6e6" stroke-width="1.2"/>
<ellipse cx="38" cy="-0.8" rx="4.6" ry="2.3" fill="#fff" stroke="#1a1a1a" stroke-width="1.1"/>
<ellipse cx="84.5" cy="-0.8" rx="4.6" ry="2.3" fill="#fff" stroke="#1a1a1a" stroke-width="1.1"/>
<circle cx="60" cy="-46" r="5" fill="#fff" stroke="#efd6da" stroke-width="2"/>
<path d="M55.5,-45 A5,5 0 0 1 64.5,-45" fill="none" stroke="#b04a5a" stroke-width="1.5"/>
<path d="M44,-42 L78,-42 L85,-14 L37,-14 Z" fill="#fff" stroke="#f0dde0" stroke-width="1.1"/>
<path d="M44,-42 L37.5,-16 Q37,-14 40,-14 L85,-14" fill="none" stroke="#b8404f" stroke-width="1.5"/>
<text x="52.4" y="-29.5" font-family="Liberation Sans, sans-serif" font-size="13.5" fill="#1a1a1a" textLength="16.6" lengthAdjust="spacingAndGlyphs">MAX</text>
<text x="47.0" y="-16.2" font-family="Liberation Sans, sans-serif" font-size="14" fill="#b8485a" textLength="29" lengthAdjust="spacingAndGlyphs">150 KG</text>
<path d="M1,15 L12,15 Q14,15 14,18 L14.5,23 C17,14 20,7 24,4 Q27,1.4 32,1.4 L101,2 Q106,2 110,5 L133,23 L166,27.5 Q171,28.5 172.5,33 L174,44 Q178,46 178.3,52 L178.3,59 Q178,63 173.8,63 L165.3,63 A19,19 0 1 0 128.7,63 L68.3,63 A19,19 0 1 0 31.7,63 L14,63 Q11,63 9,60 L2,55 Q1,54 1,50 Z" fill="#fff" stroke="#1a1a1a" stroke-width="1.4" stroke-linejoin="round"/>
<path d="M1,43 L11.4,43 L11.4,54.4 L3,54.4" fill="none" stroke="#1a1a1a" stroke-width="1.2"/>
<g fill="#f4f4f4" stroke="#1a1a1a" stroke-width="1.3"><path d="M28,5.8 Q29,5.8 32,5.8 L49,5.8 L49,29 L23.4,29 Z"/><path d="M52,5.8 L78.3,5.8 L78.3,29 L52,29 Z"/><path d="M81.3,5.8 L102,5.8 Q106,5.8 109,9 L122.6,29 L81.3,29 Z"/></g>
<circle cx="50" cy="58" r="14.5" fill="#fff" stroke="#1a1a1a" stroke-width="1.5"/>
<path d="M51.3,56.7 L51.3,50.8 A5.9,5.9 0 0 1 57.2,56.7 Z M51.3,59.3 L51.3,65.2 A5.9,5.9 0 0 0 57.2,59.3 Z M48.7,59.3 L48.7,65.2 A5.9,5.9 0 0 1 42.8,59.3 Z M48.7,56.7 L48.7,50.8 A5.9,5.9 0 0 0 42.8,56.7 Z" fill="#fff" stroke="#2a2a2a" stroke-width="1.1"/>
<path d="M52,51.5 L56,56 L52,56 Z M48,64.5 L44,60 L48,60 Z" fill="#2a2a2a"/>
<circle cx="147" cy="58" r="14.5" fill="#fff" stroke="#1a1a1a" stroke-width="1.5"/>
<path d="M148.3,56.7 L148.3,50.8 A5.9,5.9 0 0 1 154.2,56.7 Z M148.3,59.3 L148.3,65.2 A5.9,5.9 0 0 0 154.2,59.3 Z M145.7,59.3 L145.7,65.2 A5.9,5.9 0 0 1 139.8,59.3 Z M145.7,56.7 L145.7,50.8 A5.9,5.9 0 0 0 139.8,56.7 Z" fill="#fff" stroke="#2a2a2a" stroke-width="1.1"/>
<path d="M149,51.5 L153,56 L149,56 Z M145,64.5 L141,60 L145,60 Z" fill="#2a2a2a"/>
</g>
<g transform="translate(983,1155) scale(0.983,1)">
<path d="M31,-3 L36,-12 Q37,-13 40,-13 L88,-13 Q94,-13 97.5,-8 Q99.5,-4.5 96,-3 Z" fill="#fff" stroke="#1a1a1a" stroke-width="1.3"/>
<path d="M40,-8.5 L92,-8.5" stroke="#e6e6e6" stroke-width="1.2"/>
<ellipse cx="36" cy="-0.8" rx="4.6" ry="2.3" fill="#fff" stroke="#1a1a1a" stroke-width="1.1"/>
<ellipse cx="60" cy="-0.8" rx="4.6" ry="2.3" fill="#fff" stroke="#1a1a1a" stroke-width="1.1"/>
<ellipse cx="85" cy="-0.8" rx="4.6" ry="2.3" fill="#fff" stroke="#1a1a1a" stroke-width="1.1"/>
<circle cx="60" cy="-46" r="5" fill="#fff" stroke="#efd6da" stroke-width="2"/>
<path d="M55.5,-45 A5,5 0 0 1 64.5,-45" fill="none" stroke="#b04a5a" stroke-width="1.5"/>
<path d="M44,-42 L78,-42 L85,-14 L37,-14 Z" fill="#fff" stroke="#f0dde0" stroke-width="1.1"/>
<path d="M44,-42 L37.5,-16 Q37,-14 40,-14 L85,-14" fill="none" stroke="#b8404f" stroke-width="1.5"/>
<text x="52.4" y="-29.5" font-family="Liberation Sans, sans-serif" font-size="13.5" fill="#1a1a1a" textLength="16.6" lengthAdjust="spacingAndGlyphs">MAX</text>
<text x="47.0" y="-16.2" font-family="Liberation Sans, sans-serif" font-size="14" fill="#b8485a" textLength="29" lengthAdjust="spacingAndGlyphs">225 KG</text>
<path d="M1,15 L12,15 Q14,15 14,18 L14.5,23 C17,14 20,7 24,4 Q27,1.4 32,1.4 L101,2 Q106,2 110,5 L133,23 L166,27.5 Q171,28.5 172.5,33 L174,44 Q178,46 178.3,52 L178.3,59 Q178,63 173.8,63 L165.3,63 A19,19 0 1 0 128.7,63 L68.3,63 A19,19 0 1 0 31.7,63 L14,63 Q11,63 9,60 L2,55 Q1,54 1,50 Z" fill="#fff" stroke="#1a1a1a" stroke-width="1.4" stroke-linejoin="round"/>
<path d="M1,43 L11.4,43 L11.4,54.4 L3,54.4" fill="none" stroke="#1a1a1a" stroke-width="1.2"/>
<g fill="#f4f4f4" stroke="#1a1a1a" stroke-width="1.3"><path d="M28,5.8 Q29,5.8 32,5.8 L49,5.8 L49,29 L23.4,29 Z"/><path d="M52,5.8 L78.3,5.8 L78.3,29 L52,29 Z"/><path d="M81.3,5.8 L102,5.8 Q106,5.8 109,9 L122.6,29 L81.3,29 Z"/></g>
<circle cx="50" cy="58" r="14.5" fill="#fff" stroke="#1a1a1a" stroke-width="1.5"/>
<path d="M51.3,56.7 L51.3,50.8 A5.9,5.9 0 0 1 57.2,56.7 Z M51.3,59.3 L51.3,65.2 A5.9,5.9 0 0 0 57.2,59.3 Z M48.7,59.3 L48.7,65.2 A5.9,5.9 0 0 1 42.8,59.3 Z M48.7,56.7 L48.7,50.8 A5.9,5.9 0 0 0 42.8,56.7 Z" fill="#fff" stroke="#2a2a2a" stroke-width="1.1"/>
<path d="M52,51.5 L56,56 L52,56 Z M48,64.5 L44,60 L48,60 Z" fill="#2a2a2a"/>
<circle cx="147" cy="58" r="14.5" fill="#fff" stroke="#1a1a1a" stroke-width="1.5"/>
<path d="M148.3,56.7 L148.3,50.8 A5.9,5.9 0 0 1 154.2,56.7 Z M148.3,59.3 L148.3,65.2 A5.9,5.9 0 0 0 154.2,59.3 Z M145.7,59.3 L145.7,65.2 A5.9,5.9 0 0 1 139.8,59.3 Z M145.7,56.7 L145.7,50.8 A5.9,5.9 0 0 0 139.8,56.7 Z" fill="#fff" stroke="#2a2a2a" stroke-width="1.1"/>
<path d="M149,51.5 L153,56 L149,56 Z M145,64.5 L141,60 L145,60 Z" fill="#2a2a2a"/>
</g>
<g transform="translate(983,1308) scale(1.0,1)">
<path d="M31,-3 L36,-12 Q37,-13 40,-13 L88,-13 Q94,-13 97.5,-8 Q99.5,-4.5 96,-3 Z" fill="#fff" stroke="#1a1a1a" stroke-width="1.3"/>
<path d="M40,-8.5 L92,-8.5" stroke="#e6e6e6" stroke-width="1.2"/>
<ellipse cx="35" cy="-0.8" rx="4.6" ry="2.3" fill="#fff" stroke="#1a1a1a" stroke-width="1.1"/>
<ellipse cx="51" cy="-0.8" rx="4.6" ry="2.3" fill="#fff" stroke="#1a1a1a" stroke-width="1.1"/>
<ellipse cx="67" cy="-0.8" rx="4.6" ry="2.3" fill="#fff" stroke="#1a1a1a" stroke-width="1.1"/>
<ellipse cx="84" cy="-0.8" rx="4.6" ry="2.3" fill="#fff" stroke="#1a1a1a" stroke-width="1.1"/>
<circle cx="60" cy="-46" r="5" fill="#fff" stroke="#efd6da" stroke-width="2"/>
<path d="M55.5,-45 A5,5 0 0 1 64.5,-45" fill="none" stroke="#b04a5a" stroke-width="1.5"/>
<path d="M44,-42 L78,-42 L85,-14 L37,-14 Z" fill="#fff" stroke="#f0dde0" stroke-width="1.1"/>
<path d="M44,-42 L37.5,-16 Q37,-14 40,-14 L85,-14" fill="none" stroke="#b8404f" stroke-width="1.5"/>
<text x="52.4" y="-29.5" font-family="Liberation Sans, sans-serif" font-size="13.5" fill="#1a1a1a" textLength="16.6" lengthAdjust="spacingAndGlyphs">MAX</text>
<text x="47.0" y="-16.2" font-family="Liberation Sans, sans-serif" font-size="14" fill="#b8485a" textLength="29" lengthAdjust="spacingAndGlyphs">300 KG</text>
<path d="M1,15 L12,15 Q14,15 14,18 L14.5,23 C17,14 20,7 24,4 Q27,1.4 32,1.4 L101,2 Q106,2 110,5 L133,23 L166,27.5 Q171,28.5 172.5,33 L174,44 Q178,46 178.3,52 L178.3,59 Q178,63 173.8,63 L165.3,63 A19,19 0 1 0 128.7,63 L68.3,63 A19,19 0 1 0 31.7,63 L14,63 Q11,63 9,60 L2,55 Q1,54 1,50 Z" fill="#fff" stroke="#1a1a1a" stroke-width="1.4" stroke-linejoin="round"/>
<path d="M1,43 L11.4,43 L11.4,54.4 L3,54.4" fill="none" stroke="#1a1a1a" stroke-width="1.2"/>
<g fill="#f4f4f4" stroke="#1a1a1a" stroke-width="1.3"><path d="M28,5.8 Q29,5.8 32,5.8 L49,5.8 L49,29 L23.4,29 Z"/><path d="M52,5.8 L78.3,5.8 L78.3,29 L52,29 Z"/><path d="M81.3,5.8 L102,5.8 Q106,5.8 109,9 L122.6,29 L81.3,29 Z"/></g>
<circle cx="50" cy="58" r="14.5" fill="#fff" stroke="#1a1a1a" stroke-width="1.5"/>
<path d="M51.3,56.7 L51.3,50.8 A5.9,5.9 0 0 1 57.2,56.7 Z M51.3,59.3 L51.3,65.2 A5.9,5.9 0 0 0 57.2,59.3 Z M48.7,59.3 L48.7,65.2 A5.9,5.9 0 0 1 42.8,59.3 Z M48.7,56.7 L48.7,50.8 A5.9,5.9 0 0 0 42.8,56.7 Z" fill="#fff" stroke="#2a2a2a" stroke-width="1.1"/>
<path d="M52,51.5 L56,56 L52,56 Z M48,64.5 L44,60 L48,60 Z" fill="#2a2a2a"/>
<circle cx="147" cy="58" r="14.5" fill="#fff" stroke="#1a1a1a" stroke-width="1.5"/>
<path d="M148.3,56.7 L148.3,50.8 A5.9,5.9 0 0 1 154.2,56.7 Z M148.3,59.3 L148.3,65.2 A5.9,5.9 0 0 0 154.2,59.3 Z M145.7,59.3 L145.7,65.2 A5.9,5.9 0 0 1 139.8,59.3 Z M145.7,56.7 L145.7,50.8 A5.9,5.9 0 0 0 139.8,56.7 Z" fill="#fff" stroke="#2a2a2a" stroke-width="1.1"/>
<path d="M149,51.5 L153,56 L149,56 Z M145,64.5 L141,60 L145,60 Z" fill="#2a2a2a"/>
</g>
<text x="750" y="1038" font-family="Liberation Sans, sans-serif" font-size="51" fill="#d23448" stroke="#fff" stroke-width="0.5" textLength="30" lengthAdjust="spacingAndGlyphs">2x</text>
<rect x="667" y="1065.5" width="48" height="7" fill="url(#gred)"/>
<polygon points="651,1069 669,1060 669,1078" fill="#e0101e"/>
<rect x="818" y="1065.5" width="47" height="7" fill="url(#gblue)"/>
<polygon points="882,1069 864,1060 864,1078" fill="#1a6fc0"/>
<ellipse cx="766" cy="1069" rx="54" ry="16" fill="#fff" stroke="#111" stroke-width="3"/>
<rect x="756" y="1050" width="19" height="6" fill="#fff"/>
<path d="M757,1053 L749.5,1053 L749.5,1062 L755.5,1065 L755.5,1085 M774,1053 L781.5,1053 L781.5,1062 L775.5,1065 L775.5,1085 M755.5,1065 L775.5,1065" fill="none" stroke="#111" stroke-width="3"/>
<text x="750" y="1169" font-family="Liberation Sans, sans-serif" font-size="51" fill="#d23448" stroke="#fff" stroke-width="0.5" textLength="30" lengthAdjust="spacingAndGlyphs">3x</text>
<rect x="667" y="1192.5" width="48" height="7" fill="url(#gred)"/>
<polygon points="651,1196 669,1187 669,1205" fill="#e0101e"/>
<rect x="818" y="1192.5" width="47" height="7" fill="url(#gblue)"/>
<polygon points="882,1196 864,1187 864,1205" fill="#1a6fc0"/>
<ellipse cx="766" cy="1196" rx="54" ry="16" fill="#fff" stroke="#111" stroke-width="3"/>
<rect x="756" y="1177" width="19" height="6" fill="#fff"/>
<path d="M757,1180 L749.5,1180 L749.5,1189 L755.5,1192 L755.5,1212 M774,1180 L781.5,1180 L781.5,1189 L775.5,1192 L775.5,1212 M755.5,1192 L775.5,1192" fill="none" stroke="#111" stroke-width="3"/>
<text x="750" y="1308" font-family="Liberation Sans, sans-serif" font-size="51" fill="#d23448" stroke="#fff" stroke-width="0.5" textLength="30" lengthAdjust="spacingAndGlyphs">4x</text>
<rect x="667" y="1328.5" width="48" height="7" fill="url(#gred)"/>
<polygon points="651,1332 669,1323 669,1341" fill="#e0101e"/>
<rect x="818" y="1328.5" width="47" height="7" fill="url(#gblue)"/>
<polygon points="882,1332 864,1323 864,1341" fill="#1a6fc0"/>
<ellipse cx="766" cy="1332" rx="54" ry="16" fill="#fff" stroke="#111" stroke-width="3"/>
<rect x="756" y="1313" width="19" height="6" fill="#fff"/>
<path d="M757,1316 L749.5,1316 L749.5,1325 L755.5,1328 L755.5,1348 M774,1316 L781.5,1316 L781.5,1325 L775.5,1328 L775.5,1348 M755.5,1328 L775.5,1328" fill="none" stroke="#111" stroke-width="3"/>
</svg>
</body></html>
